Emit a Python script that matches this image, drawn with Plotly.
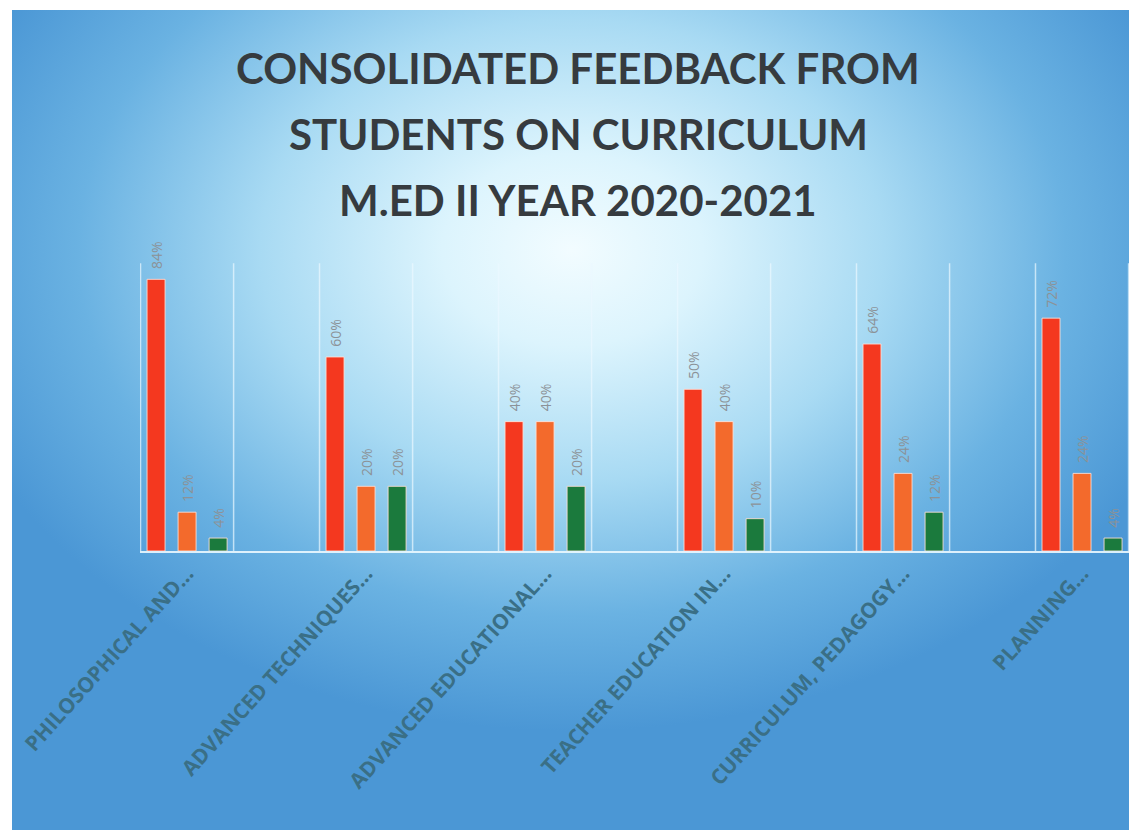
import base64
import plotly.graph_objects as go

# --- Data ---
courses = [
    "PHILOSOPHICAL AND\u2026",
    "ADVANCED TECHNIQUES\u2026",
    "ADVANCED EDUCATIONAL\u2026",
    "TEACHER EDUCATION IN\u2026",
    "CURRICULUM, PEDAGOGY\u2026",
    "PLANNING\u2026",
]
series_names = ["Excellent", "Good", "Average"]
excellent = [84, 60, 40, 50, 64, 72]
good = [12, 20, 40, 40, 24, 24]
average = [4, 20, 20, 10, 12, 4]

title_lines = [
    "CONSOLIDATED FEEDBACK FROM",
    "STUDENTS ON CURRICULUM",
    "M.ED II YEAR 2020-2021",
]

colors = ["#f4381f", "#f36a2c", "#1b7a3d"]
positions = list(range(len(courses)))

# --- Figure geometry (pixels); the page body adds an 8px offset ---
W, H = 1129, 822
L, R, T, B = 132, 7, 222, 279
plot_w, plot_h = W - L - R, H - T - B

# --- Radial blue background as an inline svg ---
svg = """<svg xmlns='http://www.w3.org/2000/svg' width='1125' height='820' viewBox='0 0 1125 820' preserveAspectRatio='none'>
<defs><radialGradient id='g' gradientUnits='userSpaceOnUse' cx='560' cy='240' r='650'
 gradientTransform='translate(560 240) scale(1 0.74) translate(-560 -240)'>
<stop offset='0' stop-color='#f2fcff'/>
<stop offset='0.2' stop-color='#dcf4fd'/>
<stop offset='0.48' stop-color='#a8daf3'/>
<stop offset='0.76' stop-color='#6ab2e2'/>
<stop offset='1' stop-color='#4b97d5'/>
</radialGradient></defs>
<rect width='1125' height='820' fill='url(#g)'/>
</svg>"""
bg_src = "data:image/svg+xml;base64," + base64.b64encode(svg.encode()).decode()

fig = go.Figure()
for name, vals, col in zip(series_names, [excellent, good, average], colors):
    fig.add_trace(go.Bar(
        name=name,
        x=positions,
        y=vals,
        marker=dict(color=col, line=dict(color="rgba(255,225,215,0.85)", width=1)),
        text=[f"\u00a0\u00a0{v}%" for v in vals],
        textposition="outside",
        textangle=-90,
        constraintext="none",
        textfont=dict(family="Open Sans", size=14, color="#8c9297"),
        cliponaxis=False,
    ))

# light frame lines either side of every course group
shapes = []
for p in positions:
    for dx in (-0.26, 0.26):
        shapes.append(dict(
            type="line", xref="x", yref="y",
            x0=p + dx, x1=p + dx, y0=0, y1=89,
            line=dict(color="rgba(235,248,255,0.7)", width=1.5),
            layer="below",
        ))

annotations = []
for i, line in enumerate(title_lines):
    y_px = 60 + i * 66
    annotations.append(dict(
        text=f"<b>{line}</b>",
        xref="paper", yref="paper",
        x=(570 - L) / plot_w, y=(H - B - y_px) / plot_h,
        xanchor="center", yanchor="middle",
        showarrow=False,
        font=dict(family="Lato", size=42, color="#363b3f"),
    ))

fig.update_layout(
    width=W, height=H,
    margin=dict(l=L, r=R, t=T, b=B),
    paper_bgcolor="white",
    plot_bgcolor="rgba(0,0,0,0)",
    barmode="group",
    bargap=0.48,
    bargroupgap=0.42,
    showlegend=False,
    shapes=shapes,
    annotations=annotations,
    images=[dict(
        source=bg_src,
        xref="paper", yref="paper",
        x=(4 - L) / plot_w, y=(H - B - 2) / plot_h,
        sizex=(W - 4) / plot_w, sizey=(H - 2) / plot_h,
        xanchor="left", yanchor="top",
        sizing="stretch", layer="below",
    )],
    xaxis=dict(
        range=[-0.263, 5.268],
        tickvals=positions,
        ticktext=courses,
        tickangle=-48,
        ticks="",
        ticklabelstandoff=0,
        showgrid=False,
        zeroline=False,
        showline=True,
        linecolor="rgba(235,248,255,0.9)",
        linewidth=2,
        tickfont=dict(family="Open Sans", size=21, weight="bold", color="#3a6f86"),
    ),
    yaxis=dict(
        range=[0, plot_h / 3.234],
        showticklabels=False,
        showgrid=False,
        zeroline=False,
        ticks="",
    ),
)

fig.write_html("out.html")
